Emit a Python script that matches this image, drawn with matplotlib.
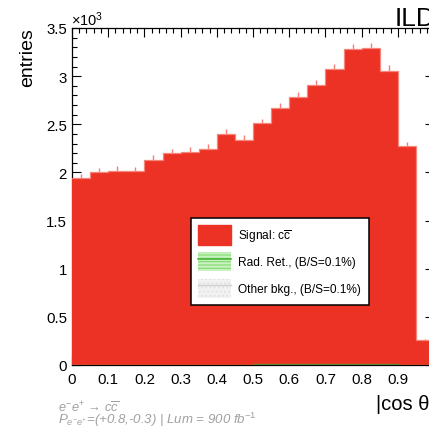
import numpy as np
import matplotlib
matplotlib.use("Agg")
import matplotlib.pyplot as plt
from matplotlib.patches import Patch
from matplotlib.lines import Line2D
from matplotlib.ticker import MultipleLocator, FuncFormatter

plt.rcParams["font.family"] = ["Liberation Sans", "DejaVu Sans"]
plt.rcParams["mathtext.fontset"] = "custom"
plt.rcParams["mathtext.rm"] = "Liberation Sans"
plt.rcParams["mathtext.it"] = "Liberation Sans:italic"
plt.rcParams["hatch.linewidth"] = 0.8

# |cos theta| binning and entries
bin_edges = [0.0, 0.05, 0.1, 0.15, 0.2, 0.25, 0.3, 0.35, 0.4, 0.45, 0.5,
             0.55, 0.6, 0.65, 0.7, 0.75, 0.8, 0.85, 0.9, 0.95, 1.0]
signal = [1936, 1998, 2015, 2008, 2126, 2195, 2208, 2243, 2396, 2334,
          2503, 2666, 2774, 2898, 3065, 3272, 3283, 3051, 2268, 253]
rad_ret = [3, 3, 3, 3, 3, 3, 3, 3, 3, 3, 3, 3, 3, 3, 3, 3, 3, 3, 3, 1]
other_bkg = [2, 2, 2, 2, 2, 2, 2, 2, 2, 2, 3, 3, 3, 3, 3, 3, 3, 3, 2, 1]
stat_err = [44, 45, 45, 45, 46, 47, 47, 47, 49, 48,
            50, 52, 53, 54, 55, 57, 57, 55, 48, 16]

edges = np.array(bin_edges)
centers = 0.5 * (edges[:-1] + edges[1:])
b1 = np.array(other_bkg)
b2 = b1 + np.array(rad_ret)
total = b2 + np.array(signal)

red = "#ec3224"

fig = plt.figure(figsize=(4.29, 4.31), dpi=100)
ax = fig.add_axes([72 / 429, 65 / 431, 362 / 429, 337 / 431])

ax.errorbar(centers, total, yerr=stat_err, fmt="none", ecolor="#f47e74",
            elinewidth=1.0, capsize=0, zorder=1)
ax.stairs(b1, edges, fill=True, color="#dddddd", zorder=2)
ax.stairs(b2, edges, baseline=b1, fill=True, color="#55bb44", zorder=2)
ax.stairs(total, edges, baseline=b2, fill=True, color=red, zorder=3)
ax.stairs(total, edges, baseline=None, color="#f5867c", linewidth=0.9, zorder=4)
ax.stairs(b2, edges, baseline=None, color="#5a8a30", linewidth=1.0, zorder=4)

ax.set_xlim(0, 1)
ax.set_ylim(0, 3500)
ax.xaxis.set_major_locator(MultipleLocator(0.1))
ax.xaxis.set_minor_locator(MultipleLocator(0.02))
ax.yaxis.set_major_locator(MultipleLocator(500))
ax.yaxis.set_minor_locator(MultipleLocator(100))
ax.xaxis.set_major_formatter(FuncFormatter(lambda v, _: f"{v:g}"))
ax.yaxis.set_major_formatter(FuncFormatter(lambda v, _: f"{v / 1000:g}"))
ax.tick_params(which="both", direction="in", top=True, right=True,
               width=0.8, labelsize=10.8)
ax.tick_params(which="major", length=6.5)
ax.tick_params(which="minor", length=3.3)
ax.tick_params(axis="x", pad=5.0)
ax.tick_params(axis="y", pad=3.6)
for sp in ax.spines.values():
    sp.set_linewidth(0.9)

fig.text(27.5 / 429, 1 - 28 / 431, "entries", rotation=90, ha="center",
         va="top", fontsize=14)
fig.text(71 / 429, 1 - 26 / 431, r"$\times10^{3}$", ha="left",
         va="baseline", fontsize=10.5)
fig.text(395 / 429, 1 - 26 / 431, "ILD", ha="left", va="baseline",
         fontsize=19)
fig.text(434 / 429, 1 - 410 / 431, "|cos θ|", ha="right",
         va="baseline", fontsize=14.5)

gray = "#a0a0a0"
fig.text(58 / 429, 1 - 411.5 / 431, r"$e^{-}e^{+}$ → c$\overline{c}$",
         ha="left", va="baseline", fontsize=9.2, color=gray, style="italic")
fig.text(58 / 429, 1 - 424.5 / 431,
         r"$P_{e^{-}e^{+}}$=(+0.8,-0.3) | Lum = 900 fb$^{-1}$",
         ha="left", va="baseline", fontsize=9.5, color=gray, style="italic")

handles = [
    Patch(facecolor=red, edgecolor=red),
    (Patch(facecolor="#c9f2c0", edgecolor="#7fd870", hatch="-----",
           linewidth=0), Line2D([], [], color="#45b835", linewidth=1.2)),
    (Patch(facecolor="#f2f2f2", edgecolor="#e0e0e0", hatch="....",
           linewidth=0), Line2D([], [], color="#cfcfcf", linewidth=1.0)),
]
labels = [r"Signal: $\mathrm{c\overline{c}}$", "Rad. Ret., (B/S=0.1%)",
          "Other bkg., (B/S=0.1%)"]
leg = ax.legend(handles, labels, loc="upper left",
                bbox_to_anchor=(191 / 429, 1 - 219 / 431),
                bbox_transform=fig.transFigure, fontsize=8.6,
                handlelength=2.75, handleheight=2.1, handletextpad=0.6,
                labelspacing=0.62, borderpad=0.62, borderaxespad=0,
                fancybox=False, framealpha=1, edgecolor="black")
leg.get_frame().set_linewidth(1.1)
leg.set_zorder(10)

fig.savefig("out.png", dpi=100)
